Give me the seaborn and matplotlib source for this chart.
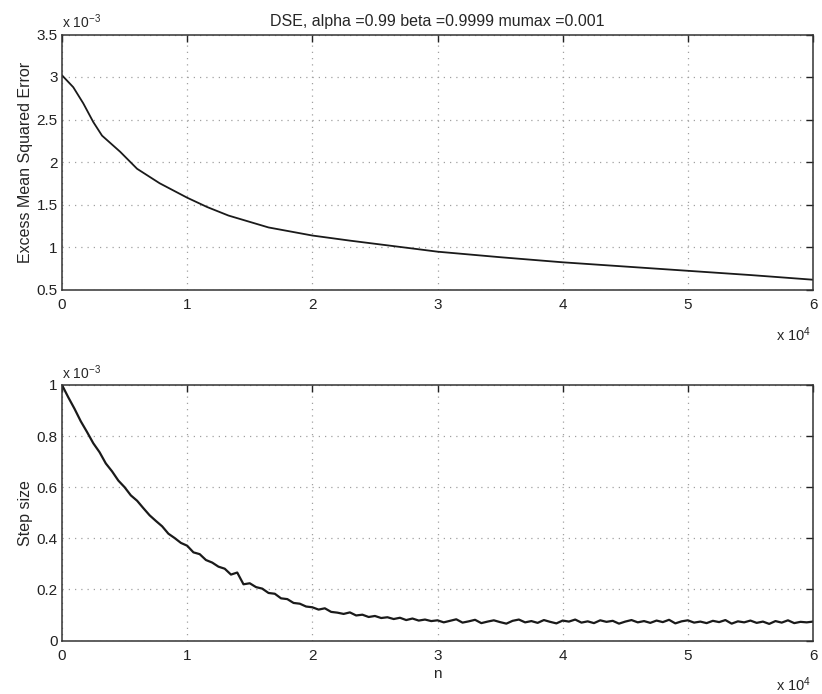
import matplotlib
matplotlib.use("Agg")
import matplotlib.pyplot as plt
from matplotlib.ticker import FuncFormatter
import seaborn as sns

# ---- data ----
# Top panel: excess mean squared error
emse_n = [0, 900, 1700, 2500, 3200, 4650, 6000, 7800, 10000, 11600, 13300,
          16500, 20000, 23000, 28400, 30000, 35000, 40000, 45000, 50000,
          55000, 60000]
emse_val = [3.02e-3, 2.88e-3, 2.69e-3, 2.47e-3, 2.31e-3, 2.12e-3, 1.92e-3,
            1.75e-3, 1.58e-3, 1.47e-3, 1.37e-3, 1.23e-3, 1.135e-3, 1.075e-3,
            0.975e-3, 0.945e-3, 0.88e-3, 0.82e-3, 0.77e-3, 0.72e-3,
            0.67e-3, 0.615e-3]

# Bottom panel: step size, sampled every 500 iterations
step_n = list(range(0, 60001, 500))
step_val_e3 = [
    1.000, 0.952, 0.907, 0.858, 0.816, 0.772, 0.737, 0.693, 0.662, 0.626,
    0.600, 0.568, 0.547, 0.518, 0.490, 0.468, 0.447, 0.418, 0.401, 0.382,
    0.371, 0.345, 0.338, 0.315, 0.305, 0.289, 0.281, 0.258, 0.266, 0.220,
    0.224, 0.209, 0.203, 0.186, 0.183, 0.165, 0.162, 0.147, 0.144, 0.133,
    0.130, 0.121, 0.126, 0.112, 0.109, 0.104, 0.110, 0.098, 0.101, 0.092,
    0.096, 0.088, 0.091, 0.084, 0.089, 0.080, 0.086, 0.078, 0.082, 0.076,
    0.079, 0.071, 0.077, 0.083, 0.070, 0.075, 0.081, 0.068, 0.074, 0.079,
    0.072, 0.066, 0.077, 0.082, 0.071, 0.076, 0.069, 0.080, 0.073, 0.067,
    0.078, 0.074, 0.082, 0.070, 0.075, 0.068, 0.079, 0.073, 0.077, 0.066,
    0.074, 0.080, 0.071, 0.076, 0.069, 0.078, 0.072, 0.081, 0.067, 0.075,
    0.079, 0.070, 0.074, 0.068, 0.077, 0.072, 0.080, 0.066, 0.075, 0.071,
    0.078, 0.069, 0.074, 0.065, 0.076, 0.070, 0.079, 0.068, 0.073, 0.071,
    0.074]
step_val = [v * 1e-3 for v in step_val_e3]

title_text = "DSE, alpha =0.99 beta =0.9999 mumax =0.001"
top_ylabel = "Excess Mean Squared Error"
bot_ylabel = "Step size"
bot_xlabel = "n"
x_ticks = [0, 10000, 20000, 30000, 40000, 50000, 60000]
top_yticks = [0.5e-3, 1e-3, 1.5e-3, 2e-3, 2.5e-3, 3e-3, 3.5e-3]
bot_yticks = [0, 0.2e-3, 0.4e-3, 0.6e-3, 0.8e-3, 1e-3]

# ---- style ----
sns.set_style("white")
plt.rcParams["font.family"] = ["Liberation Sans", "DejaVu Sans"]
plt.rcParams["mathtext.fontset"] = "custom"
plt.rcParams["mathtext.rm"] = "Liberation Sans"
plt.rcParams["mathtext.it"] = "Liberation Sans"

W, H = 822, 694
fig = plt.figure(figsize=(W / 100, H / 100), dpi=100)

def rect(l, t, r, b):
    return [l / W, 1 - b / H, (r - l) / W, (b - t) / H]

ax1 = fig.add_axes(rect(62, 34.5, 813, 289.5))
ax2 = fig.add_axes(rect(62, 385, 813, 640.5))

line_col = "#1a1a1a"
sns.lineplot(x=emse_n, y=emse_val, ax=ax1, color=line_col, linewidth=1.3,
             estimator=None, sort=False)
sns.lineplot(x=step_n, y=step_val, ax=ax2, color=line_col, linewidth=1.6,
             estimator=None, sort=False)

fmt_x = FuncFormatter(lambda v, p: f"{v / 1e4:g}")
fmt_y = FuncFormatter(lambda v, p: f"{round(v / 1e-3, 6):g}")

for ax, yt in ((ax1, top_yticks), (ax2, bot_yticks)):
    ax.set_xlim(0, 60000)
    ax.set_ylim(yt[0], yt[-1])
    ax.set_xticks(x_ticks)
    ax.set_yticks(yt)
    ax.xaxis.set_major_formatter(fmt_x)
    ax.yaxis.set_major_formatter(fmt_y)
    ax.grid(True, linestyle=(0, (1, 4)), color="#a0a0a0", linewidth=0.9)
    ax.tick_params(direction="in", length=5, width=1.0, colors="#222222",
                   labelsize=11, top=True, right=True)
    ax.tick_params(axis="x", pad=6)
    ax.tick_params(axis="y", pad=3)
    for s in ax.spines.values():
        s.set_visible(True)
        s.set_color("#333333")
        s.set_linewidth(1.1)
    ax.set_xlabel("")
    ax.set_ylabel("")

ax1.set_ylabel(top_ylabel, fontsize=11.5, labelpad=3)
ax2.set_ylabel(bot_ylabel, fontsize=11.5, labelpad=3)
ax2.set_xlabel(bot_xlabel, fontsize=11, labelpad=3)
ax1.set_title(title_text, fontsize=11.5, pad=6)

# scale annotations (MATLAB style)
ax1.text(0.0, 1.012, r"x 10$^{-3}$", transform=ax1.transAxes, fontsize=10,
         ha="left", va="bottom")
ax2.text(0.0, 1.012, r"x 10$^{-3}$", transform=ax2.transAxes, fontsize=10,
         ha="left", va="bottom")
fig.text(794 / W, 1 - 341 / H, r"x 10$^{4}$", fontsize=10.5, ha="center",
         va="baseline")
fig.text(794 / W, 1 - 691 / H, r"x 10$^{4}$", fontsize=10.5, ha="center",
         va="baseline")

fig.savefig("out.png", dpi=100)
